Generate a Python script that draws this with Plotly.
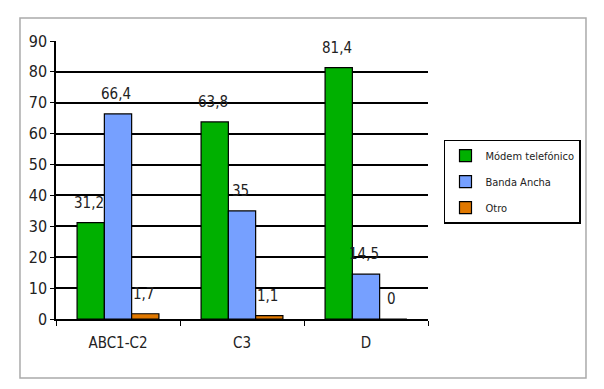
import plotly.graph_objects as go

categories = ["ABC1-C2", "C3", "D"]
modem = [31.2, 63.8, 81.4]
banda = [66.4, 35, 14.5]
otro = [1.7, 1.1, 0]
series_names = ["Módem telefónico", "Banda Ancha", "Otro"]
colors = ["#00B000", "#76A0FF", "#E07800"]
y_ticks = [0, 10, 20, 30, 40, 50, 60, 70, 80, 90]

FONT = "DejaVu Sans Condensed, Liberation Sans Narrow, Arial Narrow, sans-serif"

def fmt(v):
    return ("%g" % v).replace(".", ",")

fig = go.Figure()
all_series = [modem, banda, otro]
for i, (name, vals, col) in enumerate(zip(series_names, all_series, colors)):
    fig.add_trace(go.Bar(
        x=categories, y=vals, name=name, legendgroup="g%d" % i,
        marker=dict(color=col, line=dict(color="#000000", width=1.2)),
    ))

# data labels (Excel style, placed above the bars)
bar_px = 27.3
annotations = []
for i, vals in enumerate(all_series):
    for cat, v in zip(categories, vals):
        annotations.append(dict(
            x=cat, y=v, xref="x", yref="y", text=fmt(v), showarrow=False,
            xshift=(i - 1) * bar_px - 2, yshift=9, yanchor="bottom",
            font=dict(family=FONT, size=15, color="#222222"),
        ))

fig.update_layout(
    width=604, height=389,
    margin=dict(l=48, r=184, t=33, b=78),
    paper_bgcolor="white", plot_bgcolor="white",
    barmode="group", bargap=0.34, bargroupgap=0,
    font=dict(family=FONT, size=15, color="#222222"),
    showlegend=True,
    legend=dict(x=1.043, y=0.645, xanchor="left", yanchor="top",
                bordercolor="#000000", borderwidth=1.5,
                font=dict(family=FONT, size=11, color="#222222"),
                itemwidth=30, traceorder="grouped", tracegroupgap=7,
                bgcolor="white"),
    xaxis=dict(showline=True, linecolor="#000000", linewidth=1.5,
               ticks="outside", tickson="boundaries", ticklen=5,
               tickcolor="#000000", showgrid=False, automargin=False,
               ticklabelstandoff=9,
               tickfont=dict(family=FONT, size=15)),
    yaxis=dict(range=[0, 90], tickvals=y_ticks, showline=True,
               linecolor="#000000", linewidth=1.5, ticks="outside",
               ticklen=4, tickcolor="#000000", showgrid=True,
               gridcolor="#000000", gridwidth=1.5, zeroline=False,
               automargin=False, tickfont=dict(family=FONT, size=16)),
    annotations=annotations,
    shapes=[dict(type="rect", xref="paper", yref="paper",
                 x0=-0.0968, x1=1.4247, y0=-0.2122, y1=1.0827,
                 line=dict(color="#AAAAAA", width=1.5), layer="below")],
)

fig.write_html("out.html")
